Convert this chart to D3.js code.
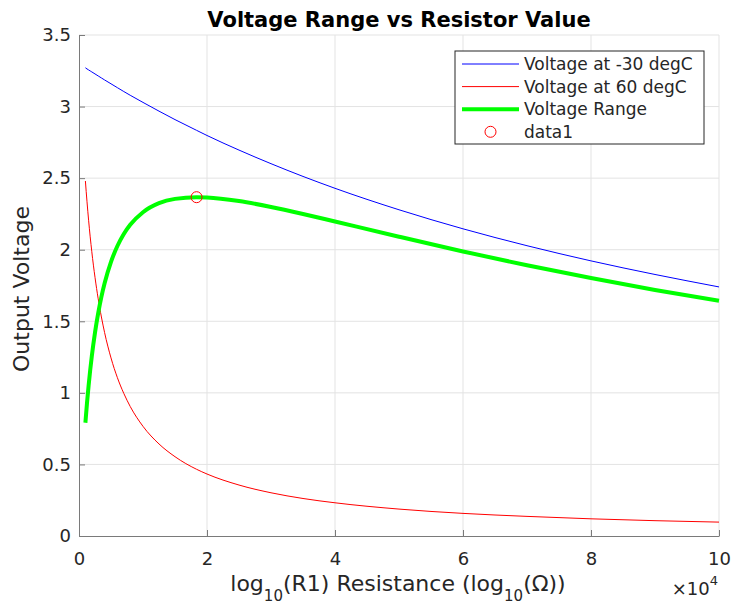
<!DOCTYPE html>
<html>
<head>
<meta charset="utf-8">
<script src="https://cdn.jsdelivr.net/npm/d3@7"></script>
<style>
  html, body { margin: 0; padding: 0; background: #fff; }
  svg { display: block; font-family: "DejaVu Sans", sans-serif; }
</style>
</head>
<body>
<svg id="chart" width="734" height="605"></svg>
<script>
// ---- Data ----
const resistance = [1000, 1250, 1500, 1750, 2000, 2500, 3000, 3500, 4000, 5000, 6000, 7000, 8000, 10000, 12500, 15000, 18370, 20000, 25000, 30000, 35000, 40000, 50000, 60000, 70000, 80000, 90000, 100000];
const voltageCold = [3.271, 3.263, 3.256, 3.249, 3.242, 3.228, 3.214, 3.200, 3.186, 3.159, 3.132, 3.105, 3.079, 3.029, 2.968, 2.909, 2.834, 2.798, 2.696, 2.601, 2.512, 2.429, 2.279, 2.146, 2.028, 1.922, 1.827, 1.740];
const voltageHot = [2.480, 2.335, 2.206, 2.090, 1.986, 1.807, 1.657, 1.530, 1.421, 1.244, 1.106, 0.996, 0.905, 0.766, 0.643, 0.554, 0.466, 0.433, 0.356, 0.302, 0.262, 0.232, 0.188, 0.158, 0.137, 0.120, 0.107, 0.097];
const voltageRange = [0.791, 0.929, 1.050, 1.159, 1.256, 1.421, 1.557, 1.670, 1.765, 1.915, 2.026, 2.110, 2.174, 2.262, 2.325, 2.355, 2.367, 2.365, 2.340, 2.299, 2.250, 2.197, 2.091, 1.988, 1.891, 1.802, 1.719, 1.644];
const peakPoint = [18370, 2.367];
const xTicks = [0, 20000, 40000, 60000, 80000, 100000];
const yTicks = [0, 0.5, 1, 1.5, 2, 2.5, 3, 3.5];
const legendLabels = ["Voltage at -30 degC", "Voltage at 60 degC", "Voltage Range", "data1"];

const svg = d3.select("#chart");
const margin = { left: 79, right: 15, top: 35, bottom: 69 };
const W = 734, H = 605;
const x = d3.scaleLinear().domain([0, 100000]).range([margin.left, W - margin.right]);
const y = d3.scaleLinear().domain([0, 3.5]).range([H - margin.bottom, margin.top]);

const textColor = "#262626";
const axisColor = "#7a7a7a";

// grid
const grid = svg.append("g");
grid.selectAll("line.gx").data(xTicks.slice(1)).enter().append("line")
  .attr("x1", d => x(d)).attr("x2", d => x(d))
  .attr("y1", y(0)).attr("y2", y(3.5))
  .attr("stroke", "#e3e3e3").attr("stroke-width", 1);
grid.selectAll("line.gy").data(yTicks.slice(1)).enter().append("line")
  .attr("x1", x(0)).attr("x2", x(100000))
  .attr("y1", d => y(d)).attr("y2", d => y(d))
  .attr("stroke", "#e3e3e3").attr("stroke-width", 1);

// axes
const xAxis = d3.axisBottom(x).tickValues(xTicks).tickFormat(d => d / 10000).tickSizeInner(-6).tickSizeOuter(0).tickPadding(16);
const yAxis = d3.axisLeft(y).tickValues(yTicks).tickFormat(d => d).tickSizeInner(-6).tickSizeOuter(0).tickPadding(8);

const gx = svg.append("g").attr("transform", `translate(0,${y(0)})`).call(xAxis);
const gy = svg.append("g").attr("transform", `translate(${x(0)},0)`).call(yAxis);
[gx, gy].forEach(g => {
  g.select(".domain").attr("stroke", axisColor);
  g.selectAll(".tick line").attr("stroke", axisColor);
  g.selectAll(".tick text").attr("fill", textColor).attr("font-size", 18).attr("font-family", "DejaVu Sans, sans-serif");
});

// lines
const line = (vals) => d3.line().x((d, i) => x(resistance[i])).y(d => y(d)).curve(d3.curveMonotoneX)(vals);
svg.append("path").attr("d", line(voltageCold)).attr("fill", "none").attr("stroke", "#0000ff").attr("stroke-width", 1);
svg.append("path").attr("d", line(voltageHot)).attr("fill", "none").attr("stroke", "#ff0000").attr("stroke-width", 1);
svg.append("path").attr("d", line(voltageRange)).attr("fill", "none").attr("stroke", "#00ff00").attr("stroke-width", 4);
svg.append("circle").attr("cx", x(peakPoint[0])).attr("cy", y(peakPoint[1])).attr("r", 5.5)
  .attr("fill", "none").attr("stroke", "#ff0000").attr("stroke-width", 1);

// title
svg.append("text").attr("x", (x(0) + x(100000)) / 2).attr("y", 27)
  .attr("text-anchor", "middle").attr("font-weight", "bold").attr("font-size", 21).attr("fill", "#000")
  .text("Voltage Range vs Resistor Value");

// y label
svg.append("text").attr("transform", `translate(29,289) rotate(-90)`)
  .attr("text-anchor", "middle").attr("font-size", 22).attr("fill", textColor)
  .text("Output Voltage");

// x label with subscripts
const xl = svg.append("text").attr("x", 398).attr("y", 591)
  .attr("text-anchor", "middle").attr("font-size", 22).attr("fill", textColor);
xl.append("tspan").text("log");
xl.append("tspan").attr("dy", 10).attr("font-size", 15).text("10");
xl.append("tspan").attr("dy", -10).text("(R1) Resistance (log");
xl.append("tspan").attr("dy", 10).attr("font-size", 15).text("10");
xl.append("tspan").attr("dy", -10).text("(Ω))");

// exponent
const ex = svg.append("text").attr("x", 718).attr("y", 595)
  .attr("text-anchor", "end").attr("font-size", 18).attr("fill", textColor);
ex.append("tspan").text("×10");
ex.append("tspan").attr("dy", -10).attr("font-size", 13).text("4");

// legend
const lg = svg.append("g").attr("transform", "translate(455,51)");
lg.append("rect").attr("width", 249).attr("height", 93).attr("fill", "#fff").attr("stroke", "#262626").attr("stroke-width", 1);
const legendStyles = [
  { color: "#0000ff", w: 1, type: "line" },
  { color: "#ff0000", w: 1, type: "line" },
  { color: "#00ff00", w: 4, type: "line" },
  { color: "#ff0000", w: 1, type: "circle" }
];
legendLabels.forEach((lab, i) => {
  const cy = 13 + i * 22.6;
  const s = legendStyles[i];
  if (s.type === "line") {
    lg.append("line").attr("x1", 7).attr("x2", 64).attr("y1", cy).attr("y2", cy)
      .attr("stroke", s.color).attr("stroke-width", s.w);
  } else {
    lg.append("circle").attr("cx", 35.5).attr("cy", cy).attr("r", 5.5).attr("fill", "none")
      .attr("stroke", s.color).attr("stroke-width", 1);
  }
  lg.append("text").attr("x", 69).attr("y", cy + 6).attr("font-size", 17).attr("fill", textColor).text(lab);
});
</script>
</body>
</html>
